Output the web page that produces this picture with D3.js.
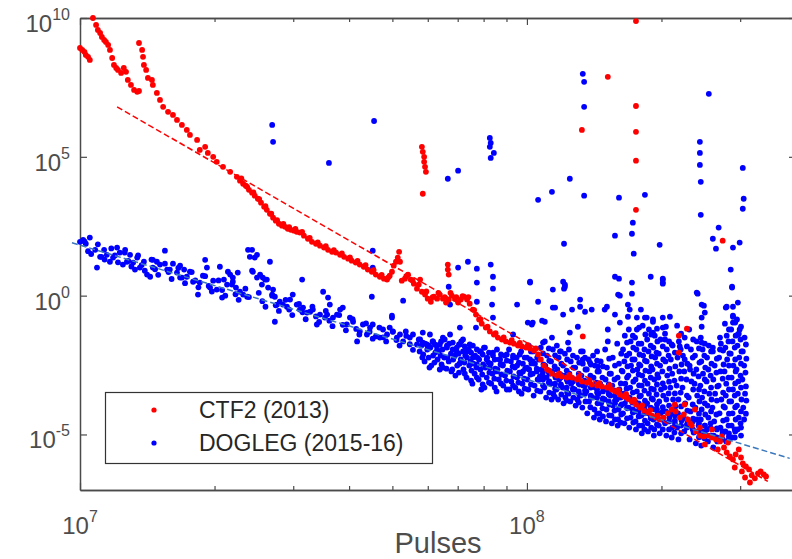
<!DOCTYPE html>
<html>
<head>
<meta charset="utf-8">
<script src="https://cdn.jsdelivr.net/npm/d3@7"></script>
<style>
  body { margin: 0; background: #fff; }
  text { font-family: "Liberation Sans", Arial, Helvetica, sans-serif; }
</style>
</head>
<body>
<div id="chart"></div>
<script>
// values, stored as [log10(pulses), log10(value)]
var ctfLog = [
  // early run, left edge
  [7.000,8.92],[7.005,8.85],[7.010,8.78],[7.013,8.67],[7.018,8.60],[7.022,8.49],
  // second branch
  [7.029,10.0],[7.036,9.75],[7.040,9.57],[7.045,9.46],[7.049,9.32],[7.054,9.21],[7.058,9.14],[7.063,9.03],
  [7.067,8.85],[7.072,8.56],[7.076,8.31],[7.081,8.20],[7.085,8.13],[7.092,8.02],[7.098,8.20],[7.103,8.06],
  [7.107,7.77],[7.114,7.59],[7.121,7.41],[7.128,7.34],[7.132,7.37],
  // main curve
  [7.132,9.10],[7.139,8.85],[7.141,8.60],[7.143,8.31],[7.148,8.13],[7.152,7.84],[7.161,7.77],[7.163,7.59],
  [7.172,7.30],[7.179,7.05],[7.186,6.80],[7.197,6.62],[7.208,6.51],[7.217,6.33],[7.228,6.15],[7.239,5.97],
  [7.246,5.79],[7.262,5.61],[7.268,5.25],[7.280,5.36],[7.286,5.14],[7.298,5.00],[7.306,4.82],[7.320,4.64],
  [7.336,4.46],[7.351,4.28],[7.358,4.14],[7.365,4.03],[7.371,3.96],[7.378,3.81],[7.385,3.71],[7.391,3.60],
  [7.398,3.49],[7.405,3.35],[7.412,3.20],[7.418,3.09],[7.425,2.95],[7.432,2.81],[7.438,2.70],[7.445,2.59],
  [7.452,2.52],[7.459,2.48],[7.465,2.41],[7.472,2.37],[7.479,2.34],[7.485,2.30],[7.492,2.27],[7.501,2.16],
  [7.510,2.05],[7.519,1.94],[7.528,1.87],[7.537,1.80],[7.546,1.73],[7.555,1.65],[7.564,1.58],[7.573,1.55],
  [7.582,1.47],[7.591,1.40],[7.600,1.33],[7.608,1.26],[7.617,1.19],[7.626,1.12],[7.635,1.04],[7.644,0.94],
  [7.653,0.86],[7.662,0.76],[7.671,0.68],[7.680,0.61],[7.687,0.58],[7.693,0.72],[7.698,0.86],[7.702,1.08],
  [7.707,1.22],[7.711,1.37],[7.714,1.58],[7.716,1.22],[7.720,0.54],[7.727,0.61],[7.734,0.76],[7.740,0.58],
  [7.747,0.43],[7.754,0.25],[7.761,0.58],[7.765,0.14],[7.772,0.04],[7.778,-0.11],[7.785,-0.22],[7.792,-0.04],
  [7.799,-0.11],[7.805,0.04],[7.812,-0.11],[7.819,-0.25],[7.825,-0.14],[7.832,0.00],[7.839,-0.11],[7.846,-0.25],
  [7.852,-0.14],[7.859,-0.04],[7.866,-0.14],[7.872,-0.29],[7.879,-0.50],[7.886,-0.68],[7.893,-0.86],[7.899,-1.01],
  [7.908,-1.15],[7.917,-1.29],[7.926,-1.40],[7.935,-1.51],[7.944,-1.58],[7.953,-1.65],[7.962,-1.69],[7.971,-1.73],
  [7.980,-1.80],[7.989,-1.83],[7.998,-1.87],[8.007,-1.91],[8.016,-1.98],[8.025,-2.12],[8.031,-2.30],[8.038,-2.52],
  [8.045,-2.66],[8.056,-2.81],[8.067,-2.88],[8.078,-2.91],[8.089,-2.95],[8.101,-2.95],[8.112,-3.02],[8.123,-3.09],
  [8.134,-3.13],[8.145,-3.20],[8.157,-3.24],[8.168,-3.27],[8.179,-3.31],[8.190,-3.38],[8.199,-3.45],[8.208,-3.56],
  [8.217,-3.63],[8.226,-3.71],[8.235,-3.81],[8.244,-3.92],[8.253,-4.03],[8.262,-4.14],[8.271,-4.21],[8.280,-4.32],
  [8.289,-4.39],[8.297,-4.46],[8.306,-4.39],[8.315,-4.24],[8.324,-4.10],[8.333,-4.17],[8.342,-4.39],[8.351,-4.28],
  [8.360,-4.46],[8.369,-4.68],[8.378,-4.89],[8.387,-5.04],[8.396,-5.07],[8.405,-5.04],[8.414,-5.11],[8.423,-5.18],
  [8.432,-5.25],[8.441,-5.47],[8.447,-5.65],[8.454,-5.79],[8.461,-5.90],[8.467,-5.72],[8.474,-5.54],[8.479,-5.83],
  [8.483,-6.04],[8.490,-6.15],[8.497,-6.26],[8.503,-6.47],[8.510,-6.58],[8.517,-6.40],[8.523,-6.33],[8.530,-6.44],
  [8.535,-6.51],
  [8.387,-4.75],[8.398,-5.36],[8.414,-4.82],[8.427,-5.54],[8.436,-5.07],[8.450,-5.29],[8.465,-6.19],[8.488,-6.55],
  [8.499,-6.73],[8.481,-6.33],[8.365,-4.60],[8.376,-4.10],[8.353,-3.92],[8.331,-3.92],
  // second pass along the main curve
  [7.361,4.22],[7.374,3.92],[7.388,3.72],[7.401,3.48],[7.415,3.22],[7.428,2.95],[7.441,2.72],[7.455,2.58],
  [7.468,2.47],[7.482,2.40],[7.497,2.30],[7.514,2.08],[7.532,1.92],[7.550,1.78],[7.568,1.64],[7.586,1.52],
  [7.604,1.38],[7.621,1.25],[7.639,1.10],[7.657,0.92],[7.675,0.75],[7.690,0.66],
  [7.730,0.70],[7.744,0.55],[7.758,0.40],[7.775,0.15],[7.789,-0.05],[7.802,0.10],[7.816,-0.05],[7.829,0.10],
  [7.842,-0.05],[7.856,-0.02],[7.869,-0.05],[7.882,-0.52],[7.896,-0.85],[7.912,-1.12],[7.930,-1.35],[7.948,-1.50],
  [7.966,-1.60],[7.984,-1.70],[8.002,-1.78],[8.020,-1.90],
  [8.050,-2.70],[8.072,-2.80],[8.095,-2.85],[8.117,-2.92],[8.140,-3.05],[8.162,-3.15],[8.185,-3.22],[8.204,-3.40],
  [8.222,-3.55],[8.240,-3.75],[8.258,-3.95],[8.276,-4.12],[8.293,-4.32],
  // short bursts and isolated points
  [7.765,5.36],[7.767,5.18],[7.770,5.00],[7.770,4.82],[7.772,4.64],[7.774,4.46],[7.767,3.67],
  [7.823,1.12],[7.823,0.94],[7.825,0.76],
  [8.244,9.89],[8.181,7.88],[8.244,6.83],[8.123,5.97],[8.244,5.90],[8.244,4.86],[8.244,3.09],[8.438,1.98],
  [8.125,-1.47],[8.340,-1.44],[8.358,-1.19],[8.340,-2.05]
];

var doglegLog = [
  // band, 1e7 to 1e8
  [7.007,2.01],[7.022,2.09],[7.013,1.87],[7.000,1.94],[7.038,1.01],[7.045,1.40],[7.034,1.65],[7.054,1.65],
  [7.060,1.47],[7.067,1.22],[7.074,1.37],[7.083,1.73],[7.089,1.55],[7.096,1.12],[7.101,1.65],[7.105,1.22],
  [7.112,1.47],[7.119,1.19],[7.123,0.94],[7.128,1.37],[7.134,1.01],[7.143,1.22],[7.150,0.76],[7.157,0.68],
  [7.163,1.01],[7.163,1.29],[7.172,1.22],[7.179,1.12],[7.190,1.62],[7.195,0.94],[7.201,0.94],[7.208,1.15],
  [7.217,0.83],[7.224,0.65],[7.224,1.08],[7.233,0.94],[7.239,0.68],[7.246,0.86],[7.253,0.50],[7.264,0.04],
  [7.268,0.47],[7.275,0.72],[7.280,1.29],[7.284,1.01],[7.291,0.29],[7.298,0.54],[7.306,0.22],[7.313,1.04],
  [7.318,-0.07],[7.322,0.58],[7.329,0.40],[7.331,0.86],[7.336,0.76],[7.342,0.50],[7.342,0.65],[7.349,0.29],
  [7.353,0.83],[7.358,0.14],[7.365,0.04],[7.374,-0.04],[7.376,1.65],[7.380,1.40],[7.385,1.65],[7.387,0.86],
  [7.391,1.37],[7.396,0.65],[7.396,1.47],[7.403,0.76],[7.407,0.40],[7.409,0.65],[7.414,0.58],[7.418,0.58],
  [7.421,0.29],[7.425,1.22],[7.430,0.04],[7.432,0.22],[7.436,-0.04],[7.441,-0.32],[7.436,-0.94],[7.447,-0.22],
  [7.454,-0.32],[7.463,-0.40],[7.470,-0.14],[7.476,0.04],[7.485,-0.32],[7.492,-0.50],[7.497,0.58],[7.499,-0.43],
  [7.508,-0.61],[7.515,-0.58],[7.521,-0.50],[7.530,-1.04],[7.537,-0.68],[7.544,0.14],[7.548,-0.79],[7.553,-0.68],
  [7.555,-0.07],[7.559,-0.32],[7.566,-0.79],[7.575,-0.68],[7.582,-0.50],[7.588,-0.43],[7.597,-1.04],[7.604,-0.79],
  [7.611,-0.94],[7.620,-1.65],[7.626,-1.29],[7.633,-1.04],[7.642,-1.40],[7.649,-1.15],[7.655,-1.04],[7.662,-1.47],
  [7.671,-1.51],[7.678,-1.22],[7.687,-1.40],[7.693,-1.15],[7.698,-0.79],[7.700,-1.29],[7.709,-1.51],[7.716,-1.40],
  [7.723,-1.65],[7.729,-1.29],[7.738,-1.51],[7.745,-1.40],[7.754,-1.76],[7.761,-1.58],[7.767,-1.33],[7.776,-1.76],
  [7.783,-1.40],[7.790,-1.65],[7.799,-1.94],[7.805,-1.76],[7.812,-1.51],[7.821,-1.87],[7.828,-1.40],[7.834,-1.69],
  [7.843,-2.01],[7.850,-1.76],[7.857,-1.58],[7.866,-2.01],[7.872,-1.76],[7.879,-2.23],[7.888,-2.48],[7.895,-2.01],
  [7.904,-1.87],[7.910,-2.30],[7.917,-2.59],[7.924,-2.05],[7.933,-2.73],[7.940,-2.30],[7.946,-2.48],[7.955,-2.12],
  [7.962,-2.73],[7.969,-2.23],[7.978,-2.52],[7.984,-2.12],[7.991,-2.73],[8.000,-2.59],[8.007,-2.30],[8.013,-2.37],
  [8.022,-2.73],[8.029,-2.91],
  [7.010,1.95],[7.025,1.50],[7.040,1.85],[7.055,1.30],[7.070,1.70],[7.085,1.20],[7.100,1.55],[7.115,1.05],
  [7.130,1.45],[7.145,0.90],[7.160,1.30],[7.175,0.75],[7.190,1.15],[7.205,0.60],[7.220,1.00],[7.235,0.45],
  [7.250,0.85],[7.265,0.30],[7.280,0.70],[7.295,0.15],[7.310,0.55],[7.325,0.00],[7.340,0.40],[7.355,-0.15],
  [7.370,0.25],[7.385,0.90],[7.400,0.10],[7.415,-0.40],[7.430,0.00],[7.445,-0.55],[7.460,-0.15],[7.475,-0.70],
  [7.490,-0.30],[7.505,-0.85],[7.520,-0.40],[7.535,-0.95],[7.550,-0.55],[7.565,-1.10],[7.580,-0.70],[7.595,-1.25],
  [7.610,-0.85],[7.625,-1.40],[7.640,-1.00],[7.655,-1.55],[7.670,-1.15],[7.685,-1.65],[7.700,-1.30],[7.715,-1.80],
  [7.730,-1.45],[7.745,-1.95],
  [7.018,1.60],[7.048,1.40],[7.078,1.45],[7.108,1.25],[7.138,1.10],[7.168,0.95],[7.198,0.85],[7.228,0.65],
  [7.258,0.55],[7.288,0.35],[7.318,0.20],[7.348,0.05],[7.378,-0.05],[7.408,-0.20],[7.438,-0.35],[7.468,-0.50],
  [7.498,-0.60],[7.528,-0.75],[7.558,-0.90],[7.588,-1.05],[7.618,-1.20],[7.648,-1.30],[7.678,-1.50],[7.708,-1.60],
  [7.738,-1.75],
  // thicker band near 6e7 - 1e8
  [7.758,-1.58],[7.764,-1.80],[7.760,-2.01],[7.766,-2.23],[7.772,-1.73],[7.777,-1.94],[7.771,-2.37],
  [7.789,-1.65],[7.784,-1.87],[7.790,-2.16],[7.786,-2.52],[7.798,-1.80],[7.803,-2.01],[7.800,-2.30],[7.805,-2.66],
  [7.816,-1.58],[7.811,-1.94],[7.815,-2.23],[7.812,-2.59],[7.826,-1.73],[7.830,-2.09],[7.825,-2.37],[7.831,-2.73],
  [7.843,-1.87],[7.839,-2.16],[7.844,-2.52],[7.840,-2.88],[7.853,-1.65],[7.857,-2.01],[7.852,-2.30],[7.858,-2.66],
  [7.870,-1.94],[7.866,-2.23],[7.871,-2.52],[7.865,-2.95],[7.879,-1.80],[7.884,-2.16],[7.880,-2.45],[7.883,-2.81],
  [7.878,-3.17],[7.897,-2.01],[7.893,-2.30],[7.896,-2.66],[7.892,-3.02],[7.898,-3.38],[7.906,-1.87],[7.911,-2.23],
  [7.907,-2.59],[7.910,-2.95],[7.905,-3.31],[7.924,-2.16],[7.919,-2.45],[7.923,-2.81],[7.920,-3.17],[7.933,-1.94],
  [7.938,-2.30],[7.934,-2.66],[7.937,-3.02],[7.932,-3.45],[7.950,-2.16],[7.946,-2.52],[7.951,-2.88],[7.947,-3.24],
  [7.960,-1.94],[7.964,-2.37],[7.959,-2.73],[7.965,-3.09],[7.961,-3.38],[7.977,-2.23],[7.973,-2.59],[7.978,-2.95],
  [7.974,-3.31],[7.987,-2.01],[7.991,-2.45],[7.986,-2.81],[7.990,-3.17],[7.988,-3.53],
  [7.767,-1.69],[7.768,-2.12],[7.781,-1.80],[7.780,-2.23],[7.782,-2.59],[7.794,-1.76],[7.795,-2.05],[7.793,-2.41],
  [7.808,-1.65],[7.807,-2.16],[7.809,-2.48],[7.821,-1.80],[7.822,-2.23],[7.820,-2.63],[7.834,-1.94],[7.835,-2.30],
  [7.833,-2.66],[7.848,-1.76],[7.847,-2.09],[7.849,-2.45],[7.848,-2.77],[7.861,-1.83],[7.862,-2.16],[7.860,-2.41],
  [7.861,-2.81],[7.875,-2.05],[7.874,-2.37],[7.876,-2.70],[7.875,-3.06],[7.888,-1.94],[7.889,-2.23],[7.887,-2.59],
  [7.888,-2.95],[7.901,-2.12],[7.902,-2.48],[7.900,-2.84],[7.901,-3.20],[7.915,-2.05],[7.914,-2.41],[7.916,-2.77],
  [7.915,-3.13],[7.928,-2.30],[7.929,-2.63],[7.927,-2.99],[7.928,-3.31],[7.942,-2.12],[7.941,-2.48],[7.943,-2.84],
  [7.942,-3.16],[7.955,-2.34],[7.956,-2.70],[7.954,-3.06],[7.955,-3.38],[7.969,-2.16],[7.968,-2.55],[7.970,-2.91],
  [7.969,-3.24],[7.982,-2.41],[7.983,-2.77],[7.981,-3.13],[7.982,-3.45],[7.995,-2.23],[7.996,-2.63],[7.994,-2.99],
  [7.995,-3.35],
  // cloud above 1e8
  [8.004,-1.80],[8.000,-2.23],[8.005,-2.66],[8.001,-3.02],[8.003,-3.38],[8.014,-2.01],[8.018,-2.45],[8.013,-2.81],
  [8.017,-3.24],[8.015,-3.60],[8.031,-1.87],[8.027,-2.30],[8.032,-2.66],[8.028,-3.02],[8.030,-3.45],[8.040,-1.65],
  [8.045,-2.16],[8.041,-2.52],[8.044,-2.95],[8.039,-3.31],[8.043,-3.67],[8.058,-1.94],[8.054,-2.37],[8.057,-2.73],
  [8.053,-3.17],[8.059,-3.53],[8.055,-3.74],[8.067,-1.80],[8.071,-2.23],[8.068,-2.66],[8.072,-3.02],[8.066,-3.38],
  [8.070,-3.74],[8.085,-2.09],[8.081,-2.52],[8.084,-2.88],[8.080,-3.31],[8.086,-3.67],[8.082,-3.88],[8.094,-1.94],
  [8.098,-2.37],[8.095,-2.81],[8.099,-3.17],[8.093,-3.53],[8.097,-3.81],[8.112,-2.23],[8.108,-2.59],[8.111,-3.02],
  [8.107,-3.38],[8.113,-3.74],[8.109,-3.96],[8.121,-2.01],[8.125,-2.45],[8.122,-2.88],[8.126,-3.24],[8.120,-3.60],
  [8.124,-4.03],[8.138,-2.30],[8.134,-2.66],[8.137,-3.09],[8.133,-3.45],[8.139,-3.81],[8.135,-4.24],[8.148,-2.16],
  [8.152,-2.52],[8.149,-2.95],[8.153,-3.31],[8.147,-3.67],[8.151,-4.10],[8.150,-4.39],[8.165,-2.37],[8.161,-2.73],
  [8.164,-3.17],[8.160,-3.53],[8.166,-3.88],[8.162,-4.24],[8.163,-4.46],[8.175,-1.94],[8.179,-2.59],[8.176,-3.02],
  [8.180,-3.38],[8.174,-3.74],[8.178,-4.10],[8.177,-4.53],[8.192,-2.23],[8.188,-2.81],[8.191,-3.24],[8.187,-3.60],
  [8.193,-3.96],[8.189,-4.32],[8.190,-4.60],[8.202,-1.73],[8.206,-2.45],[8.203,-2.95],[8.207,-3.38],[8.201,-3.74],
  [8.205,-4.10],[8.204,-4.46],[8.203,-4.68],[8.219,-1.44],[8.215,-1.94],[8.218,-2.37],[8.214,-2.73],[8.220,-3.17],
  [8.216,-3.53],[8.219,-3.88],[8.215,-4.24],[8.218,-4.60],[8.228,-1.22],[8.232,-1.65],[8.229,-2.09],[8.233,-2.52],
  [8.227,-2.88],[8.231,-3.31],[8.230,-3.67],[8.228,-4.03],[8.232,-4.39],[8.229,-4.75],[8.246,-0.79],[8.242,-1.51],
  [8.245,-1.94],[8.241,-2.30],[8.247,-2.66],[8.243,-3.02],[8.246,-3.45],[8.242,-3.81],[8.245,-4.17],[8.243,-4.53],
  [8.244,-4.82],[8.255,-0.50],[8.259,-1.08],[8.256,-1.73],[8.260,-2.16],[8.254,-2.52],[8.258,-2.88],[8.257,-3.24],
  [8.255,-3.60],[8.259,-3.96],[8.256,-4.32],[8.258,-4.68],[8.257,-4.96],[8.273,-1.22],[8.269,-1.58],[8.272,-2.01],
  [8.268,-2.37],[8.274,-2.73],[8.270,-3.17],[8.273,-3.53],[8.269,-3.88],[8.272,-4.24],[8.270,-4.60],[8.271,-4.89],
  [8.282,-0.94],[8.286,-1.44],[8.283,-1.87],[8.287,-2.23],[8.281,-2.66],[8.285,-3.02],[8.284,-3.38],[8.282,-3.74],
  [8.286,-4.10],[8.283,-4.46],[8.285,-4.82],[8.284,-5.04],[8.299,-1.58],[8.295,-2.09],[8.298,-2.52],[8.294,-2.95],
  [8.300,-3.38],[8.296,-3.81],[8.299,-4.24],[8.295,-4.68],[8.297,-4.96],[8.309,-1.37],[8.313,-1.94],[8.310,-2.37],
  [8.314,-2.88],[8.308,-3.31],[8.312,-3.74],[8.311,-4.17],[8.309,-4.60],[8.312,-5.04],[8.326,-1.80],[8.322,-2.30],
  [8.325,-2.81],[8.321,-3.31],[8.327,-3.74],[8.323,-4.24],[8.325,-4.75],[8.324,-5.11],[8.336,-1.08],[8.340,-1.65],
  [8.337,-2.23],[8.341,-2.73],[8.335,-3.24],[8.339,-3.74],[8.338,-4.24],[8.336,-4.75],[8.339,-5.18],[8.353,-1.51],
  [8.349,-2.16],[8.352,-2.73],[8.348,-3.31],[8.354,-3.88],[8.350,-4.39],[8.352,-4.89],[8.363,-1.22],[8.367,-1.94],
  [8.364,-2.52],[8.368,-3.09],[8.362,-3.67],[8.366,-4.17],[8.365,-4.68],[8.364,-5.18],[8.380,-1.65],[8.376,-2.16],
  [8.379,-2.66],[8.375,-3.17],[8.381,-3.60],[8.377,-4.03],[8.380,-4.46],[8.376,-4.89],[8.378,-5.32],[8.389,-1.51],
  [8.393,-1.94],[8.390,-2.37],[8.394,-2.81],[8.388,-3.24],[8.392,-3.67],[8.391,-4.10],[8.389,-4.46],[8.393,-4.89],
  [8.390,-5.40],[8.407,-1.80],[8.403,-2.23],[8.406,-2.66],[8.402,-3.09],[8.408,-3.53],[8.404,-3.96],[8.406,-4.39],
  [8.403,-4.82],[8.405,-5.25],[8.416,-2.01],[8.420,-2.52],[8.417,-3.02],[8.421,-3.53],[8.415,-4.03],[8.419,-4.53],
  [8.418,-5.04],[8.417,-5.47],[8.434,-1.73],[8.430,-2.23],[8.433,-2.73],[8.429,-3.24],[8.435,-3.74],[8.431,-4.24],
  [8.433,-4.75],[8.432,-5.18],[8.443,-1.01],[8.447,-1.44],[8.444,-1.87],[8.448,-2.30],[8.442,-2.73],[8.446,-3.17],
  [8.445,-3.60],[8.443,-4.03],[8.447,-4.46],[8.444,-4.89],[8.446,-5.25],[8.461,-0.72],[8.457,-1.22],[8.460,-1.65],
  [8.456,-2.09],[8.462,-2.52],[8.458,-2.95],[8.461,-3.38],[8.457,-3.81],[8.460,-4.24],[8.458,-4.68],[8.459,-5.11],
  [8.470,-0.86],[8.474,-1.37],[8.471,-1.80],[8.475,-2.23],[8.469,-2.66],[8.473,-3.09],[8.472,-3.53],[8.470,-3.96],
  [8.474,-4.39],[8.471,-4.82],[8.487,-1.51],[8.483,-2.01],[8.486,-2.52],[8.482,-3.02],[8.488,-3.53],[8.484,-4.03],
  [8.486,-4.46],
  // second pass through the cloud
  [8.009,-2.01],[8.010,-2.44],[8.008,-2.84],[8.009,-3.20],[8.023,-2.23],[8.022,-2.63],[8.024,-3.02],[8.023,-3.42],
  [8.036,-2.08],[8.037,-2.48],[8.035,-2.84],[8.036,-3.23],[8.049,-1.90],[8.050,-2.34],[8.048,-2.73],[8.049,-3.13],
  [8.050,-3.49],[8.063,-2.15],[8.062,-2.55],[8.064,-2.95],[8.063,-3.35],[8.062,-3.64],[8.076,-2.01],[8.077,-2.45],
  [8.075,-2.84],[8.076,-3.20],[8.077,-3.56],[8.090,-2.30],[8.089,-2.70],[8.091,-3.10],[8.090,-3.49],[8.089,-3.78],
  [8.103,-2.16],[8.104,-2.59],[8.102,-2.99],[8.103,-3.35],[8.104,-3.67],[8.117,-2.41],[8.116,-2.81],[8.118,-3.20],
  [8.117,-3.56],[8.116,-3.85],[8.130,-2.23],[8.131,-2.66],[8.129,-3.06],[8.130,-3.42],[8.131,-3.81],[8.143,-2.48],
  [8.142,-2.88],[8.144,-3.27],[8.143,-3.63],[8.142,-4.02],[8.157,-2.34],[8.158,-2.73],[8.156,-3.13],[8.157,-3.49],
  [8.158,-3.88],[8.157,-4.25],[8.170,-2.55],[8.169,-2.95],[8.171,-3.35],[8.170,-3.70],[8.169,-4.06],[8.170,-4.35],
  [8.184,-2.27],[8.185,-2.81],[8.183,-3.20],[8.184,-3.56],[8.185,-3.92],[8.184,-4.31],[8.197,-2.52],[8.196,-3.02],
  [8.198,-3.42],[8.197,-3.78],[8.196,-4.14],[8.197,-4.46],[8.211,-2.09],[8.212,-2.70],[8.210,-3.16],[8.211,-3.56],
  [8.212,-3.92],[8.211,-4.28],[8.210,-4.57],[8.224,-1.69],[8.223,-2.16],[8.225,-2.55],[8.224,-2.95],[8.223,-3.35],
  [8.224,-3.70],[8.225,-4.06],[8.224,-4.42],[8.237,-1.44],[8.238,-1.87],[8.236,-2.30],[8.237,-2.70],[8.238,-3.10],
  [8.237,-3.49],[8.236,-3.85],[8.237,-4.21],[8.238,-4.57],[8.251,-1.15],[8.250,-1.73],[8.252,-2.12],[8.251,-2.48],
  [8.250,-2.84],[8.251,-3.23],[8.252,-3.63],[8.251,-3.99],[8.250,-4.35],[8.251,-4.68],[8.264,-0.79],[8.265,-1.40],
  [8.263,-1.94],[8.264,-2.34],[8.265,-2.70],[8.264,-3.06],[8.263,-3.42],[8.264,-3.78],[8.265,-4.14],[8.264,-4.50],
  [8.263,-4.82],[8.278,-1.40],[8.277,-1.80],[8.279,-2.19],[8.278,-2.55],[8.277,-2.95],[8.278,-3.35],[8.279,-3.70],
  [8.278,-4.06],[8.277,-4.42],[8.278,-4.75],[8.291,-1.19],[8.292,-1.65],[8.290,-2.05],[8.291,-2.45],[8.292,-2.84],
  [8.291,-3.20],[8.290,-3.56],[8.291,-3.92],[8.292,-4.28],[8.291,-4.64],[8.304,-1.83],[8.305,-2.30],[8.303,-2.73],
  [8.304,-3.16],[8.305,-3.60],[8.304,-4.02],[8.303,-4.46],[8.304,-4.82],[8.318,-1.65],[8.317,-2.16],[8.319,-2.63],
  [8.318,-3.10],[8.317,-3.52],[8.318,-3.96],[8.319,-4.39],[8.318,-4.82],[8.331,-2.05],[8.332,-2.55],[8.330,-3.06],
  [8.331,-3.52],[8.332,-3.99],[8.331,-4.50],[8.330,-4.93],[8.345,-1.37],[8.344,-1.94],[8.346,-2.48],[8.345,-2.99],
  [8.344,-3.49],[8.345,-3.99],[8.346,-4.50],[8.345,-4.96],[8.358,-1.83],[8.359,-2.45],[8.357,-3.02],[8.358,-3.60],
  [8.359,-4.14],[8.358,-4.64],[8.372,-1.58],[8.371,-2.23],[8.373,-2.81],[8.372,-3.38],[8.371,-3.92],[8.372,-4.43],
  [8.373,-4.93],[8.385,-1.90],[8.386,-2.41],[8.384,-2.91],[8.385,-3.38],[8.386,-3.81],[8.385,-4.25],[8.384,-4.68],
  [8.385,-5.10],[8.398,-1.73],[8.397,-2.16],[8.399,-2.59],[8.398,-3.02],[8.397,-3.45],[8.398,-3.88],[8.399,-4.28],
  [8.398,-4.68],[8.397,-5.14],[8.412,-2.01],[8.413,-2.45],[8.411,-2.88],[8.412,-3.31],[8.413,-3.74],[8.412,-4.17],
  [8.411,-4.60],[8.412,-5.04],[8.425,-2.27],[8.424,-2.77],[8.426,-3.27],[8.425,-3.78],[8.424,-4.28],[8.425,-4.78],
  [8.426,-5.25],[8.439,-1.98],[8.440,-2.48],[8.438,-2.99],[8.439,-3.49],[8.440,-3.99],[8.439,-4.50],[8.438,-4.96],
  [8.452,-1.22],[8.451,-1.65],[8.453,-2.08],[8.452,-2.52],[8.451,-2.95],[8.452,-3.38],[8.453,-3.81],[8.452,-4.25],
  [8.451,-4.68],[8.452,-5.07],[8.466,-0.97],[8.467,-1.44],[8.465,-1.87],[8.466,-2.30],[8.467,-2.73],[8.466,-3.16],
  [8.465,-3.60],[8.466,-4.02],[8.467,-4.46],[8.466,-4.89],[8.479,-1.12],[8.478,-1.58],[8.480,-2.01],[8.479,-2.45],
  [8.478,-2.88],[8.479,-3.31],[8.480,-3.74],[8.479,-4.17],[8.478,-4.60],[8.490,-1.76],[8.491,-2.27],[8.489,-2.77],
  [8.490,-3.27],[8.491,-3.78],[8.490,-4.25],
  // lower edge of the cloud
  [8.036,-3.02],[8.036,-2.73],[8.050,-3.09],[8.050,-2.81],[8.063,-3.17],[8.063,-2.88],[8.076,-3.24],[8.076,-2.95],
  [8.089,-3.31],[8.089,-3.02],[8.103,-3.38],[8.103,-3.09],[8.116,-3.45],[8.116,-3.17],[8.130,-3.53],[8.130,-3.24],
  [8.143,-3.60],[8.143,-3.31],[8.157,-3.67],[8.157,-3.38],[8.170,-3.74],[8.170,-3.45],[8.183,-3.81],[8.183,-3.53],
  [8.197,-3.88],[8.197,-3.60],[8.210,-3.96],[8.210,-3.67],[8.224,-4.03],[8.224,-3.74],[8.237,-4.10],[8.237,-3.81],
  [8.250,-4.17],[8.250,-3.88],[8.264,-4.24],[8.264,-3.96],[8.277,-4.32],[8.277,-4.03],[8.291,-4.39],[8.291,-4.10],
  [8.304,-4.46],[8.304,-4.17],[8.318,-4.53],[8.318,-4.24],[8.331,-4.60],[8.331,-4.32],[8.345,-4.68],[8.345,-4.39],
  [8.358,-4.75],[8.358,-4.46],[8.371,-4.82],[8.371,-4.53],[8.385,-4.89],[8.385,-4.60],[8.398,-4.96],[8.398,-4.68],
  [8.411,-5.04],[8.411,-4.75],[8.425,-5.11],[8.425,-4.82],[8.438,-5.18],[8.438,-4.89],[8.452,-5.18],[8.452,-4.96],
  [8.465,-5.11],[8.465,-4.82],[8.479,-5.04],[8.479,-4.75],
  // sparse points over the cloud
  [8.007,0.47],[8.025,-0.22],[8.058,0.22],[8.085,0.32],[8.081,0.50],[8.013,-0.97],[8.040,-0.94],[8.058,-0.43],
  [8.081,-0.68],[8.101,-0.50],[8.096,-1.33],[8.092,-1.69],[8.074,-2.01],[8.036,-1.69],[8.056,-1.51],[8.119,-0.14],
  [8.119,-0.40],[8.130,-0.58],[8.145,-0.50],[8.114,-1.12],[8.125,-2.01],[8.125,-2.30],[8.157,-2.01],[8.159,-2.55],
  [8.181,-1.65],[8.174,-0.50],[8.179,-0.40],[8.197,-0.68],[8.204,0.04],[8.235,0.07],[8.208,-0.97],[8.226,-0.32],
  [8.230,-0.50],[8.226,-0.76],[8.246,-1.22],[8.268,-0.79],[8.282,-0.86],[8.304,-0.79],[8.320,-0.76],[8.304,-1.15],
  [8.311,-1.12],[8.282,-1.33],[8.309,-1.58],[8.304,0.58],[8.304,0.47],[8.380,0.11],[8.391,-0.32],[8.398,-0.61],
  [8.391,-0.79],[8.391,-1.12],[8.391,-1.69],[8.459,0.32],[8.447,-0.40],[8.472,-0.25],[8.461,-0.76],[8.461,-0.97],
  [8.476,-1.22],[8.472,-1.40],[8.432,-1.51],[8.416,-1.87],[8.432,-1.94],[8.365,-2.66],[8.342,-1.83],[8.353,-2.30],
  [8.324,-1.76],[8.235,0.47],[8.181,-1.22],[8.141,-2.41],
  // outliers
  [7.430,6.15],[7.432,5.54],[7.557,4.78],[7.658,6.29],[7.823,4.21],[7.846,4.50],[7.917,5.68],[7.919,5.50],
  [7.917,5.36],[7.926,5.14],[7.919,4.96],[8.125,7.99],[8.128,7.70],[8.128,6.80],[8.096,4.21],[8.387,5.54],
  [8.387,5.14],[8.387,4.71],[8.407,7.27],[8.483,4.60],[8.025,3.45],[8.056,3.74],[7.655,1.62],[7.655,1.01],
  [7.653,-0.04],[7.723,-0.18],[7.846,1.01],[7.868,1.22],[7.888,0.97],[7.919,1.12],[7.924,0.68],[7.888,0.47],
  [7.825,0.32],[7.924,0.25],[8.007,0.50],[7.978,-0.32],[8.063,-0.43],[7.922,-0.32],[7.698,-0.72],[7.886,-1.15],
  [8.002,-0.97],[8.011,-1.04],[8.034,-0.90],[7.828,-0.32],[7.850,-1.15],[7.888,-0.22],[7.924,-0.79],[7.969,-1.40],
  [8.128,3.60],[8.206,3.53],[8.264,3.63],[8.389,4.10],[8.485,3.49],[8.483,3.13],[8.237,2.63],[8.235,2.23],
  [8.197,2.16],[8.389,2.91],[8.429,2.45],[8.416,2.05],[8.423,1.69],[8.476,1.91],[8.461,1.73],[8.297,1.83],
  [8.083,1.87],[8.239,1.51],[8.456,0.94],[8.197,0.68],[8.206,0.61],[8.277,0.68],[8.304,0.61],[8.304,0.43],
  [8.459,0.29],[8.085,0.40],[8.083,0.25],[8.208,0.00],[8.382,0.07],[8.396,-0.36],[8.445,-0.43],[8.461,-0.40]
];

// power-law fits, end points in [log10(pulses), log10(value)]
var ctfFitLog = [[7.083, 6.80], [8.539, -6.69]];
var doglegFitLog = [[6.982, 1.906], [8.588, -5.86]];

var xMajorTicks = [1e7, 1e8];
var xMajorExp = ["7", "8"];
var xMinorTicks = [2e7, 3e7, 4e7, 5e7, 6e7, 7e7, 8e7, 9e7, 2e8, 3e8];
var yTicks = [1e-5, 1, 1e5, 1e10];
var yTickExp = ["-5", "0", "5", "10"];
var seriesNames = ["CTF2 (2013)", "DOGLEG (2015-16)"];
var seriesColors = ["#ff0000", "#0000ff"];

var width = 792,
    height = 559;

var svg = d3.select("#chart")
    .append("svg")
    .attr("width", width)
    .attr("height", height);

var x = d3.scaleLog().domain([1e7, 4e8]).range([80, 796]);
var y = d3.scaleLog().domain([1e-7, 1e10]).range([490, 18]);

function px(d) { return x(Math.pow(10, d[0])); }
function py(d) { return y(Math.pow(10, d[1])); }

var axisColor = "#4a4a4a";
function styleAxis(g) {
    g.select(".domain").attr("stroke", axisColor).attr("stroke-width", 1.5);
    g.selectAll(".tick line").attr("stroke", axisColor).attr("stroke-width", 1.2);
    g.selectAll(".tick text").remove();
}

// box axes, ticks pointing inward
svg.append("g").attr("transform", "translate(0,490)")
    .call(d3.axisBottom(x).tickValues(xMinorTicks).tickSizeInner(-4).tickSizeOuter(0).tickFormat(""))
    .call(styleAxis);
svg.append("g").attr("transform", "translate(0,490)")
    .call(d3.axisBottom(x).tickValues(xMajorTicks).tickSizeInner(-7).tickSizeOuter(0).tickFormat(""))
    .call(styleAxis);
svg.append("g").attr("transform", "translate(0,18)")
    .call(d3.axisTop(x).tickValues(xMinorTicks).tickSizeInner(-4).tickSizeOuter(0).tickFormat(""))
    .call(styleAxis);
svg.append("g").attr("transform", "translate(0,18)")
    .call(d3.axisTop(x).tickValues(xMajorTicks).tickSizeInner(-7).tickSizeOuter(0).tickFormat(""))
    .call(styleAxis);
svg.append("g").attr("transform", "translate(80,0)")
    .call(d3.axisLeft(y).tickValues(yTicks).tickSizeInner(-7).tickSizeOuter(0).tickFormat(""))
    .call(styleAxis);
svg.append("g").attr("transform", "translate(796,0)")
    .call(d3.axisRight(y).tickValues(yTicks).tickSizeInner(-7).tickSizeOuter(0).tickFormat(""))
    .call(styleAxis);

// tick labels as 10 with superscript
var labelColor = "#4d4d4d";
svg.selectAll(".xlab")
    .data(xMajorTicks)
    .enter().append("text")
    .attr("class", "xlab")
    .attr("x", function(d) { return x(d); })
    .attr("y", 534)
    .attr("text-anchor", "middle")
    .attr("fill", labelColor)
    .attr("font-size", 24)
    .each(function(d, i) {
        var t = d3.select(this);
        t.append("tspan").text("10");
        t.append("tspan").attr("dy", -12).attr("font-size", 16).text(xMajorExp[i]);
    });

svg.selectAll(".ylab")
    .data(yTicks)
    .enter().append("text")
    .attr("class", "ylab")
    .attr("x", 70)
    .attr("y", function(d) { return y(d) + 14; })
    .attr("text-anchor", "end")
    .attr("fill", labelColor)
    .attr("font-size", 24)
    .each(function(d, i) {
        var t = d3.select(this);
        t.append("tspan").text("10");
        t.append("tspan").attr("dy", -12).attr("font-size", 16).text(yTickExp[i]);
    });

svg.append("text")
    .attr("x", x(Math.sqrt(1e7 * 4e8)))
    .attr("y", 553)
    .attr("text-anchor", "middle")
    .attr("fill", labelColor)
    .attr("font-size", 29)
    .text("Pulses");

// points
svg.append("g").selectAll("circle")
    .data(doglegLog)
    .enter().append("circle")
    .attr("cx", px)
    .attr("cy", py)
    .attr("r", 2.9)
    .attr("fill", seriesColors[1]);

svg.append("g").selectAll("circle")
    .data(ctfLog)
    .enter().append("circle")
    .attr("cx", px)
    .attr("cy", py)
    .attr("r", 2.9)
    .attr("fill", seriesColors[0]);

// fit lines
var line = d3.line().x(px).y(py);
svg.append("path")
    .attr("d", line(doglegFitLog))
    .attr("fill", "none")
    .attr("stroke", "#3b78bd")
    .attr("stroke-width", 1.5)
    .attr("stroke-dasharray", "6,3");
svg.append("path")
    .attr("d", line(ctfFitLog))
    .attr("fill", "none")
    .attr("stroke", "#ff0000")
    .attr("stroke-width", 1.5)
    .attr("stroke-dasharray", "6,3");

// legend
var legend = svg.append("g").attr("transform", "translate(105,392)");
legend.append("rect")
    .attr("x", 0.5).attr("y", 0.5)
    .attr("width", 327).attr("height", 71)
    .attr("fill", "#fff")
    .attr("stroke", "#333")
    .attr("stroke-width", 1.2);
var rows = legend.selectAll(".row")
    .data(seriesNames)
    .enter().append("g")
    .attr("class", "row")
    .attr("transform", function(d, i) { return "translate(0," + (18 + i * 33) + ")"; });
rows.append("circle")
    .attr("cx", 49).attr("cy", 0).attr("r", 2.6)
    .attr("fill", function(d, i) { return seriesColors[i]; });
rows.append("text")
    .attr("x", 94).attr("y", 8)
    .attr("font-size", 23)
    .attr("fill", "#262626")
    .text(function(d) { return d; });
</script>
</body>
</html>
